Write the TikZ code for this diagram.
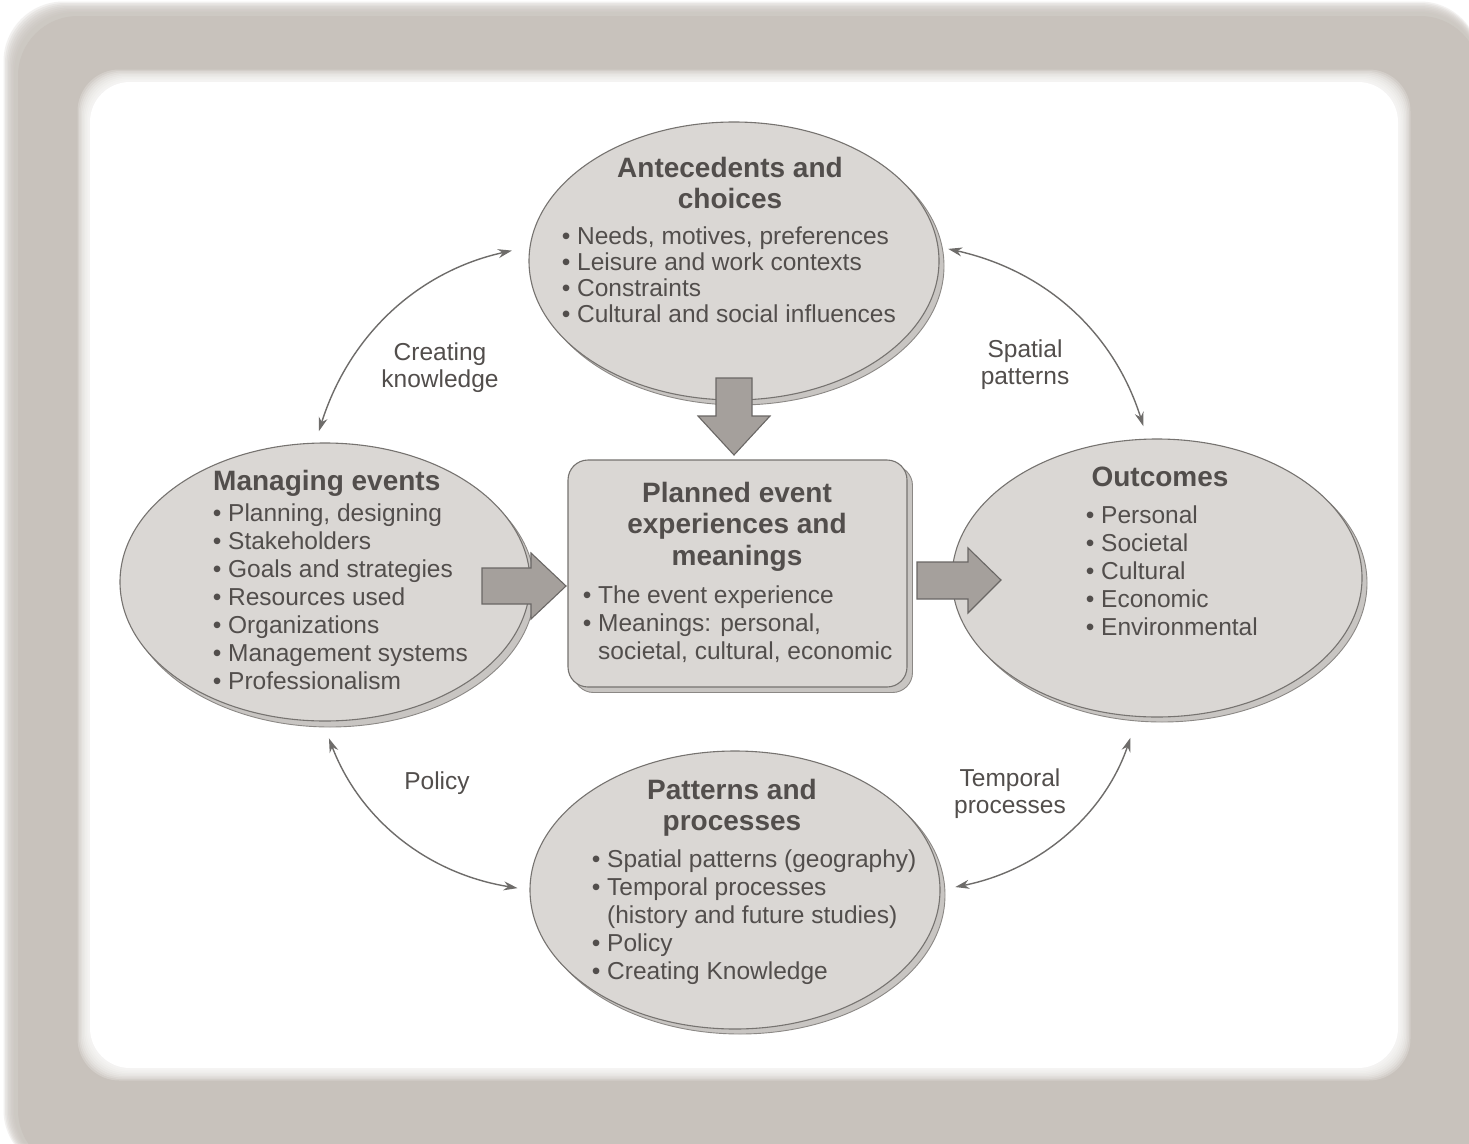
\documentclass[tikz,border=0pt]{standalone}
\usepackage{fontspec}
\setmainfont{Liberation Sans}
\usetikzlibrary{arrows.meta,shapes.geometric}
\definecolor{txt}{RGB}{82,78,76}
\definecolor{ellfill}{RGB}{218,215,212}
\definecolor{shadc}{RGB}{200,197,194}
\definecolor{edge}{RGB}{118,115,112}
\definecolor{blockc}{RGB}{165,160,156}
\definecolor{conn}{RGB}{110,108,106}
\definecolor{framec}{RGB}{200,194,188}
\begin{document}
\begin{tikzpicture}[x=1pt,y=1pt,
  ell/.style={ellipse, draw=edge, line width=1.1pt, fill=ellfill, minimum width=410pt, minimum height=278pt, inner sep=0pt},
  shad/.style={ellipse, draw=edge!85, line width=0.9pt, fill=shadc, minimum width=410pt, minimum height=278pt, inner sep=0pt},
  boxn/.style={rectangle, rounded corners=20pt, draw=edge, line width=1.1pt, fill=ellfill, minimum width=339pt, minimum height=227pt, inner sep=0pt},
  boxshad/.style={rectangle, rounded corners=20pt, draw=edge!85, line width=0.9pt, fill=shadc, minimum width=339pt, minimum height=227pt, inner sep=0pt},
  block/.style={draw=edge!90!black, line width=1.1pt, fill=blockc},
  conn/.style={draw=conn, line width=1.4pt, {Stealth[length=14pt,width=9pt]}-{Stealth[length=14pt,width=9pt]}},
  head/.style={font=\fontsize{28}{31}\selectfont\bfseries, text=txt, align=center, inner sep=0pt, anchor=base},
  items/.style={font=\fontsize{24.5}{28}\selectfont, text=txt, align=left, inner sep=0pt, anchor=base west},
  lab/.style={font=\fontsize{24.5}{27.5}\selectfont, text=txt, align=center, inner sep=0pt, anchor=base}
]
% page and frame
\useasboundingbox (0,0) rectangle (1469,-1143);
\fill[white] (0,0) rectangle (1469,-1143);
\foreach \i in {0,...,7}{
  \fill[framec, opacity=0.22, rounded corners=60pt] (14-\i*1.5,-12+\i*1.5) rectangle (1480,-1170);
}
\fill[framec, rounded corners=60pt] (18,-16) rectangle (1480,-1170);
\foreach \i in {0,...,7}{
  \fill[white, opacity=0.2, rounded corners=42pt] (88-\i*1.5,-80+\i*1.5) rectangle (1400+\i*1.5,-1070-\i*1.5);
}
\fill[white, rounded corners=40pt] (90,-82) rectangle (1398,-1068);

% shadows
\node[shad] (topS) at (739,-266) {};
\node[shad] (leftS) at (330,-588) {};
\node[shad] (rightS) at (1162,-583) {};
\node[shad] (botS) at (740,-895) {};
\node[boxshad] (midS) at (743,-579) {};

% main shapes
\node[ell] (top) at (734,-261) {};
\node[ell] (left) at (325,-582) {};
\node[ell] (right) at (1157,-578) {};
\node[ell] (bot) at (735,-890) {};
\node[boxn] (mid) at (737.5,-573.5) {};

% block arrows
\draw[block] (716,-378) -- (752,-378) -- (752,-416) -- (770,-416) -- (734,-455) -- (698,-416) -- (716,-416) -- cycle;
\draw[block] (482,-568) -- (531,-568) -- (531,-553) -- (566,-586) -- (531,-619) -- (531,-604) -- (482,-604) -- cycle;
\draw[block] (917,-562) -- (968,-562) -- (968,-548) -- (1001,-580) -- (968,-613) -- (968,-599) -- (917,-599) -- cycle;

% curved connectors
\draw[conn, shorten <=18pt, shorten >=12pt] (top.176) to[bend right=30] (left.94);
\draw[conn, shorten <=10pt, shorten >=13pt] (top.4) to[bend left=30] (right.94);
\draw[conn, shorten <=18pt, shorten >=12pt] (left.-91) to[bend right=30] (bot.180);
\draw[conn, shorten <=22pt, shorten >=15pt] (right.-98) to[bend left=30] (bot.0);

% connector labels (base = baseline of last line)
\node[lab] (l1) at (440,-387.5) {Creating\\knowledge};
\node[lab] (l2) at (1025,-384.5) {Spatial\\patterns};
\node[lab] (l3) at (437,-789) {Policy};
\node[lab] (l4) at (1010,-813.5) {Temporal\\processes};

% top ellipse text
\node[head] (topH) at (730,-208) {Antecedents and\\choices};
\node[items, font=\fontsize{24.5}{25.7}\selectfont] (topL) at (561.6,-322) {\textbullet\ Needs, motives, preferences\\\textbullet\ Leisure and work contexts\\\textbullet\ Constraints\\\textbullet\ Cultural and social influences};

% left ellipse text
\node[head, anchor=base west] (leftH) at (213,-490) {Managing events};
\node[items] (leftL) at (212.6,-689) {\textbullet\ Planning, designing\\\textbullet\ Stakeholders\\\textbullet\ Goals and strategies\\\textbullet\ Resources used\\\textbullet\ Organizations\\\textbullet\ Management systems\\\textbullet\ Professionalism};

% centre box text
\node[head, font=\fontsize{28}{31.5}\selectfont\bfseries] (midH) at (737,-565) {Planned event\\experiences and\\meanings};
\node[items] (midL) at (582.6,-659) {\textbullet\ The event experience\\\textbullet\ Meanings: personal,\\\hphantom{\textbullet\ }societal, cultural, economic};

% right ellipse text
\node[head] (rightH) at (1160,-486) {Outcomes};
\node[items] (rightL) at (1085.6,-635) {\textbullet\ Personal\\\textbullet\ Societal\\\textbullet\ Cultural\\\textbullet\ Economic\\\textbullet\ Environmental};

% bottom ellipse text
\node[head] (botH) at (732,-830) {Patterns and\\processes};
\node[items] (botL) at (591.6,-979) {\textbullet\ Spatial patterns (geography)\\\textbullet\ Temporal processes\\\hphantom{\textbullet\ }(history and future studies)\\\textbullet\ Policy\\\textbullet\ Creating Knowledge};
\end{tikzpicture}
\end{document}
